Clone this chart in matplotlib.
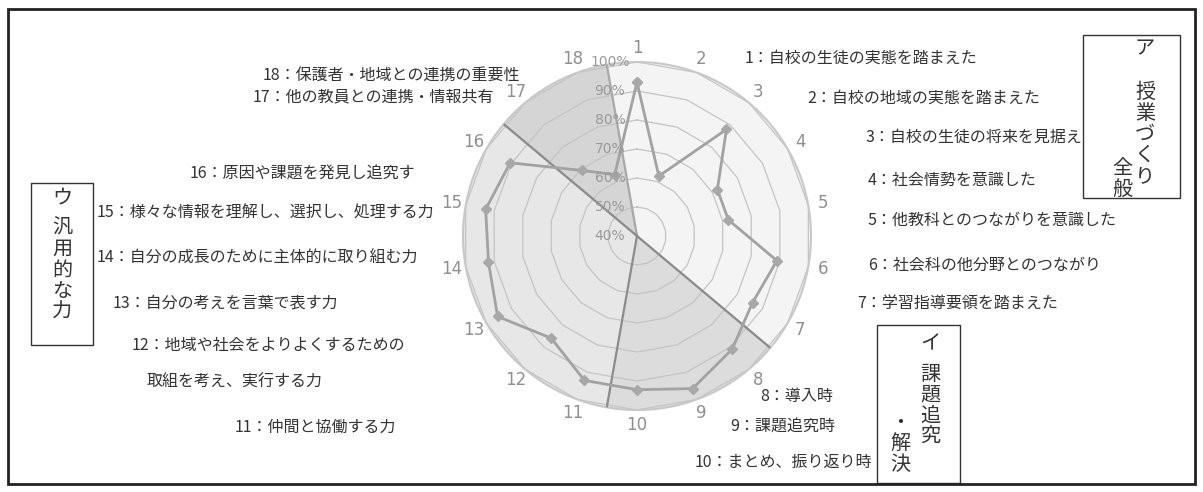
import numpy as np
import matplotlib
matplotlib.use("Agg")
import matplotlib.pyplot as plt
from matplotlib.patches import Rectangle
from matplotlib.transforms import offset_copy

plt.rcParams['font.family'] = ['Noto Sans CJK JP', 'DejaVu Sans']

# data
axis_ids = [str(i) for i in range(1, 19)]
values = [93, 62, 88, 72, 72, 89, 86, 91, 96, 93, 93, 86, 95.5, 92, 93, 90.5, 69.5, 62.5]
ring_levels = [40, 50, 60, 70, 80, 90, 100]
ring_labels = ['40%', '50%', '60%', '70%', '80%', '90%', '100%']

# groups: (first axis, last axis, fill colour)
groups = [(1, 7, '#f4f4f4'), (8, 10, '#dcdcdc'), (11, 16, '#e7e7e7'), (17, 18, '#d5d5d5')]
group_edges = ['#a8a8a8', '#8a8a8a', '#8c8c8c', '#8a8a8a']

item_labels = [
    ('1：自校の生徒の実態を踏まえた', 745, 58),
    ('2：自校の地域の実態を踏まえた', 807, 98),
    ('3：自校の生徒の将来を見据え', 865, 137),
    ('4：社会情勢を意識した', 868, 180),
    ('5：他教科とのつながりを意識した', 868, 220),
    ('6：社会科の他分野とのつながり', 868, 265),
    ('7：学習指導要領を踏まえた', 857, 303),
    ('8：導入時', 760, 397),
    ('9：課題追究時', 730, 427),
    ('10：まとめ、振り返り時', 695, 462),
    ('11：仲間と協働する力', 235, 427),
    ('12：地域や社会をよりよくするための', 132, 345),
    ('取組を考え、実行する力', 147, 382),
    ('13：自分の考えを言葉で表す力', 113, 303),
    ('14：自分の成長のために主体的に取り組む力', 97, 258),
    ('15：様々な情報を理解し、選択し、処理する力', 97, 213),
    ('16：原因や課題を発見し追究す', 190, 174),
    ('17：他の教員との連携・情報共有', 253, 97),
    ('18：保護者・地域との連携の重要性', 263, 75),
]

W, H = 1203, 492
fig = plt.figure(figsize=(W / 100, H / 100), dpi=100)

cx, cy, rad = 637, 236, 174
ax = fig.add_axes([(cx - rad) / W, 1 - (cy + rad) / H, 2 * rad / W, 2 * rad / H], polar=True)
ax.set_theta_zero_location('N')
ax.set_theta_direction(-1)
ax.set_ylim(40, 100)
ax.grid(False)
ax.set_xticks([])
ax.set_yticks([])
ax.spines['polar'].set_color('#c8c8c8')
ax.spines['polar'].set_linewidth(1.5)

n = len(axis_ids)
step = 2 * np.pi / n
angles = np.arange(n) * step

# group sectors
for (a, b, col), ec in zip(groups, group_edges):
    start = (a - 1.5) * step
    end = (b - 0.5) * step
    th = np.linspace(start, end, 100)
    ax.fill_between(th, 40, 100, color=col, zorder=1, linewidth=0)
    ax.plot([start, start], [40, 100], color=ec, lw=1.6, zorder=4)

# polygon grid
closed = np.append(angles, angles[0])
for lv in ring_levels[1:]:
    ax.plot(closed, [lv] * (n + 1), color='#c4c4c4', lw=0.9, zorder=2)

# data
ax.plot(closed, values + [values[0]], color='#a2a2a2', lw=2, marker='D', ms=5,
        markerfacecolor='#a8a8a8', markeredgecolor='#a8a8a8', zorder=5)

# axis numbers
for ang, lab in zip(angles, axis_ids):
    ax.text(ang, 105, lab, color='#8f8f8f', fontsize=12, ha='center', va='center',
            family='DejaVu Sans')

# ring labels
tr = offset_copy(ax.transData, fig=fig, x=-27, y=0, units='dots')
for lv, lab in zip(ring_levels, ring_labels):
    ax.text(0, lv, lab, transform=tr, color='#9a9a9a', fontsize=10, ha='center',
            va='center', family='DejaVu Sans', zorder=6)

# item labels
for txt, x, y in item_labels:
    fig.text(x / W, 1 - y / H, txt, fontsize=11.5, color='#333333', ha='left', va='center')


def vbox(x0, y0, x1, y1, columns):
    fig.patches.append(Rectangle((x0 / W, 1 - y1 / H), (x1 - x0) / W, (y1 - y0) / H,
                                 transform=fig.transFigure, fill=False,
                                 edgecolor='#333333', lw=1))
    for chars, x, y in columns:
        fig.text(x / W, 1 - y / H, '\n'.join(chars), fontsize=14.5, color='#333333',
                 ha='center', va='top', linespacing=1.0)


vbox(1083, 35, 1180, 198, [('ア', 1145, 38), ('授業づくり', 1145, 82), ('全般', 1122, 158)])
vbox(877, 325, 960, 483, [('イ', 930, 333), ('課題追究', 930, 364), ('・解決', 900, 412)])
vbox(31, 183, 93, 345, [('ウ', 62, 188), ('汎用的な力', 62, 218)])

# outer frame
fig.patches.append(Rectangle((8 / W, 8 / H), (W - 16) / W, (H - 17) / H,
                             transform=fig.transFigure, fill=False,
                             edgecolor='#222222', lw=2))

fig.savefig('out.png', dpi=100)
